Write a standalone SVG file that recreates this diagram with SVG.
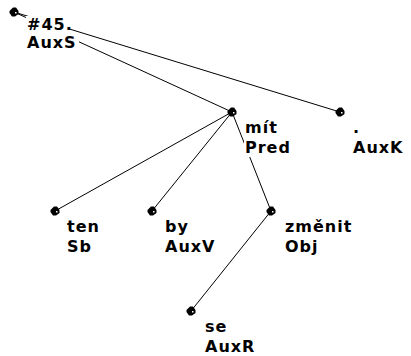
<svg xmlns="http://www.w3.org/2000/svg" xmlns:xlink="http://www.w3.org/1999/xlink" width="411" height="356" viewBox="0 0 411 356">
  <style>
    .edge { stroke: #000; stroke-width: 1; fill: none; }
    .lbl { font-family: "DejaVu Sans", "Liberation Sans", sans-serif; font-weight: bold; font-size: 16px; fill: #000; letter-spacing: 1px; }
    .bg { fill: #fff; }
  </style>
  <defs>
    <!-- tree node marker -->
    <g id="dot">
      <path d="M-4.5,-1 L-1,-4.5 L2,-4.5 L4.5,-1 L4.5,2 L1,4.5 L-2,4.5 L-4.5,1 Z" fill="#000"/>
      <rect x="1" y="0" width="1.5" height="1.5" fill="#fff"/>
    </g>
  </defs>
  <rect width="411" height="356" fill="#fff"/>

  <!-- dependency edges -->
  <g id="edges">
    <line class="edge" x1="14" y1="12" x2="340" y2="112"/>
    <line class="edge" x1="14" y1="12" x2="232" y2="112"/>
    <line class="edge" x1="232" y1="112" x2="55" y2="211"/>
    <line class="edge" x1="232" y1="112" x2="152" y2="211"/>
    <line class="edge" x1="232" y1="112" x2="271" y2="211"/>
    <line class="edge" x1="271" y1="211" x2="191" y2="311"/>
  </g>

  <!-- each label line sits on its own white box, masking the edges beneath -->
  <g id="n-root">
    <use xlink:href="#dot" x="14" y="12"/>
    <rect class="bg" x="26" y="16" width="44" height="18"/>
    <rect class="bg" x="26" y="34" width="53" height="18"/>
    <text class="lbl" x="27" y="30">#45.</text>
    <text class="lbl" x="27" y="48">AuxS</text>
  </g>

  <g id="n-auxk">
    <use xlink:href="#dot" x="340" y="112"/>
    <rect class="bg" x="352" y="119" width="10" height="19"/>
    <rect class="bg" x="352" y="138" width="54" height="18"/>
    <text class="lbl" x="353" y="133">.</text>
    <text class="lbl" x="353" y="153">AuxK</text>
  </g>

  <g id="n-mit">
    <use xlink:href="#dot" x="232" y="112"/>
    <rect class="bg" x="244" y="117" width="36" height="21"/>
    <rect class="bg" x="244" y="138" width="50" height="19"/>
    <text class="lbl" x="245" y="133">mít</text>
    <text class="lbl" x="245" y="153">Pred</text>
  </g>

  <g id="n-ten">
    <use xlink:href="#dot" x="55" y="211"/>
    <rect class="bg" x="66" y="218" width="36" height="19"/>
    <rect class="bg" x="66" y="237" width="28" height="18"/>
    <text class="lbl" x="67" y="232">ten</text>
    <text class="lbl" x="67" y="252">Sb</text>
  </g>

  <g id="n-by">
    <use xlink:href="#dot" x="152" y="211"/>
    <rect class="bg" x="164" y="218" width="28" height="19"/>
    <rect class="bg" x="164" y="237" width="54" height="18"/>
    <text class="lbl" x="165" y="232">by</text>
    <text class="lbl" x="165" y="252">AuxV</text>
  </g>

  <g id="n-zmenit">
    <use xlink:href="#dot" x="271" y="211"/>
    <rect class="bg" x="284" y="216" width="72" height="21"/>
    <rect class="bg" x="284" y="237" width="36" height="19"/>
    <text class="lbl" x="285" y="232">změnit</text>
    <text class="lbl" x="285" y="252">Obj</text>
  </g>

  <g id="n-se">
    <use xlink:href="#dot" x="191" y="311"/>
    <rect class="bg" x="204" y="318" width="26" height="19"/>
    <rect class="bg" x="204" y="337" width="54" height="18"/>
    <text class="lbl" x="205" y="332">se</text>
    <text class="lbl" x="205" y="352">AuxR</text>
  </g>
</svg>
